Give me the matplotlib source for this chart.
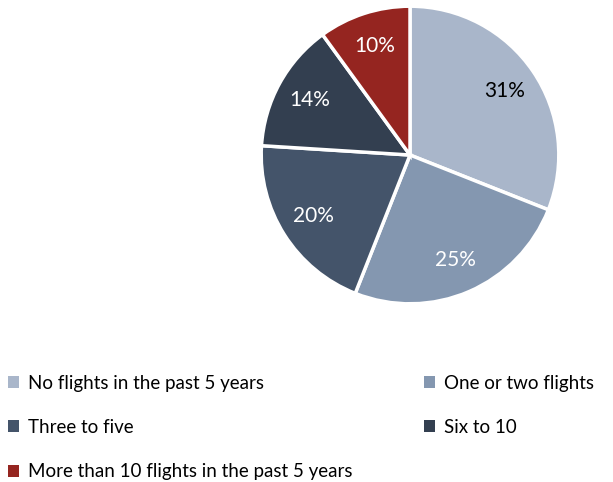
import matplotlib.pyplot as plt
from matplotlib.patches import Patch

plt.rcParams['font.family'] = ['Lato', 'DejaVu Sans']

categories = ['No flights in the past 5 years', 'One or two flights', 'Three to five',
              'Six to 10', 'More than 10 flights in the past 5 years']
shares = [31, 25, 20, 14, 10]
colors = ['#A9B6CA', '#8497B0', '#44546A', '#333F50', '#952520']
label_colors = ['black', 'white', 'white', 'white', 'white']

fig = plt.figure(figsize=(6.13, 4.82), dpi=100)
# pie leaves a 1.25 margin around the unit circle
ax = fig.add_axes([0.3654, 0.2925, 0.6069, 0.7718])

wedges, texts, autotexts = ax.pie(shares, colors=colors, startangle=90, counterclock=False,
                                  autopct='%d%%', pctdistance=0.77,
                                  wedgeprops=dict(edgecolor='white', linewidth=2.5))
for t, c in zip(autotexts, label_colors):
    t.set_color(c)
    t.set_fontsize(15)
ax.set_aspect('equal')

# legend laid out row by row
order = [0, 2, 4, 1, 3]
handles = [Patch(facecolor=colors[i], edgecolor='none') for i in order]
labels = [categories[i] for i in order]
fig.legend(handles, labels, ncol=2, loc='upper left', bbox_to_anchor=(0.0, 0.238),
           frameon=False, fontsize=13.5, handlelength=0.6, handleheight=0.6,
           handletextpad=0.5, columnspacing=3.8, labelspacing=1.45, borderaxespad=0)

plt.savefig('out.png', dpi=100)
